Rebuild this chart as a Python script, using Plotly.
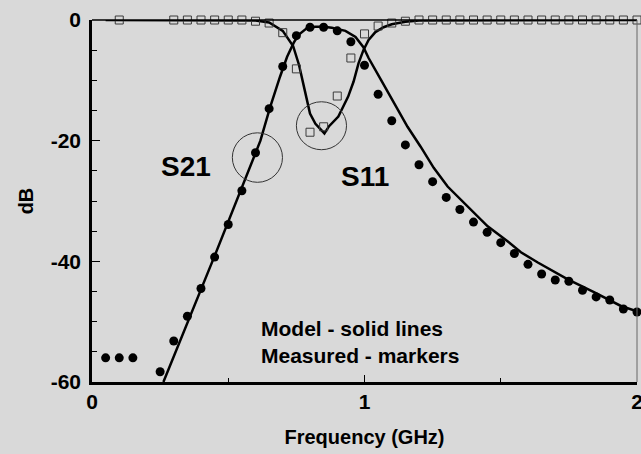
import plotly.graph_objects as go

# Measured S21 (filled dots)
s21_meas_f = [0.05, 0.10, 0.15, 0.25, 0.30, 0.35, 0.40, 0.45, 0.50, 0.55, 0.60, 0.65,
              0.70, 0.75, 0.80, 0.85, 0.90, 0.95, 1.00, 1.05, 1.10, 1.15, 1.20, 1.25,
              1.30, 1.35, 1.40, 1.45, 1.50, 1.55, 1.60, 1.65, 1.70, 1.75, 1.80, 1.85,
              1.90, 1.95, 2.00]
s21_meas_db = [-56.0, -56.0, -56.0, -58.3, -53.2, -49.1, -44.5, -39.3, -33.9, -28.3, -22.0, -14.7,
               -7.7, -2.6, -1.2, -1.2, -1.8, -3.6, -7.5, -12.3, -16.7, -20.7, -24.0, -26.8,
               -29.4, -31.4, -33.5, -35.2, -36.9, -38.7, -40.5, -42.1, -43.1, -43.3, -44.8, -45.9,
               -46.4, -47.9, -48.4]

# Measured S11 (open squares)
s11_meas_f = [0.10, 0.30, 0.35, 0.40, 0.45, 0.50, 0.55, 0.60, 0.65, 0.70, 0.75, 0.80,
              0.85, 0.90, 0.95, 1.00, 1.05, 1.10, 1.15, 1.20, 1.25, 1.30, 1.35, 1.40,
              1.45, 1.50, 1.55, 1.60, 1.65, 1.70, 1.75, 1.80, 1.85, 1.90, 1.95, 2.00]
s11_meas_db = [0.0, 0.0, 0.0, 0.0, 0.0, 0.0, 0.0, -0.2, -0.5, -2.1, -8.1, -18.6,
               -17.7, -12.6, -6.3, -2.3, -1.0, -0.5, -0.2, 0.0, 0.0, 0.0, 0.0, 0.0,
               0.0, 0.0, 0.0, 0.0, 0.0, 0.0, 0.0, 0.0, 0.0, 0.0, 0.0, 0.0]

# Model S21 (solid line)
s21_model_f = [0.262, 0.45, 0.618, 0.654, 0.69, 0.716, 0.74, 0.757, 0.79, 0.82, 0.85, 0.88,
               0.93, 0.967, 0.996, 1.015, 1.06, 1.107, 1.158, 1.206, 1.254, 1.305, 1.353,
               1.40, 1.452, 1.526, 1.574, 1.636, 1.746, 1.842, 1.941, 2.00]
s21_model_db = [-60.0, -39.1, -20.0, -14.4, -9.4, -6.1, -3.8, -2.5, -1.3, -1.1, -1.1, -1.3,
                -1.8, -2.8, -4.5, -6.3, -9.9, -13.7, -17.7, -21.0, -24.5, -27.6, -29.8,
                -31.9, -34.2, -36.7, -38.5, -40.2, -43.0, -45.1, -47.4, -48.3]

# Model S11 (solid line)
s11_model_f = [0.05, 0.60, 0.65, 0.70, 0.738, 0.76, 0.78, 0.80, 0.82, 0.853, 0.87, 0.904,
               0.94, 0.96, 0.978, 0.996, 1.015, 1.04, 1.07, 1.10, 1.15, 1.20, 2.00]
s11_model_db = [0.0, -0.1, -0.4, -1.8, -4.3, -7.5, -11.5, -15.5, -17.2, -18.8, -17.6, -16.0,
                -12.7, -10.2, -7.2, -5.0, -3.3, -2.0, -1.2, -0.7, -0.3, -0.1, 0.0]

x_ticks = [0, 1, 2]
y_ticks = [0, -20, -40, -60]

BG = "#d9d9d9"
FONT = "Liberation Sans, Arial, sans-serif"

fig = go.Figure()

fig.add_trace(go.Scatter(x=s21_model_f, y=s21_model_db, mode="lines",
                         line=dict(color="black", width=2.5), showlegend=False))
fig.add_trace(go.Scatter(x=s11_model_f, y=s11_model_db, mode="lines",
                         line=dict(color="black", width=2.5), showlegend=False))
fig.add_trace(go.Scatter(x=s11_meas_f, y=s11_meas_db, mode="markers",
                         marker=dict(symbol="square-open", size=8, color="#3a3a3a",
                                     line=dict(width=1, color="#3a3a3a")),
                         cliponaxis=False, showlegend=False))
fig.add_trace(go.Scatter(x=s21_meas_f, y=s21_meas_db, mode="markers",
                         marker=dict(symbol="circle", size=9, color="black"),
                         cliponaxis=False, showlegend=False))

# Highlight circles around the S21 and S11 points of interest
fig.add_shape(type="circle", xref="x", yref="y", x0=0.515, x1=0.699, y0=-26.9, y1=-18.7,
              line=dict(color="#333333", width=1))
fig.add_shape(type="circle", xref="x", yref="y", x0=0.750, x1=0.934, y0=-21.5, y1=-13.55,
              line=dict(color="#333333", width=1))

# Top and right frame lines
fig.add_shape(type="line", xref="paper", yref="paper", x0=0, x1=1, y0=1, y1=1,
              line=dict(color="black", width=1.5))
fig.add_shape(type="line", xref="paper", yref="paper", x0=1, x1=1, y0=0, y1=1,
              line=dict(color="#666666", width=1))

fig.add_annotation(x=0.346, y=-24.3, text="<b>S21</b>", showarrow=False,
                   font=dict(family=FONT, size=28, color="black"))
fig.add_annotation(x=1.0, y=-25.9, text="<b>S11</b>", showarrow=False,
                   font=dict(family=FONT, size=28, color="black"))
fig.add_annotation(x=0.614, y=-53.3, xanchor="left", yanchor="middle", align="left",
                   text="<b>Model - solid lines</b><br><b>Measured - markers</b>",
                   showarrow=False,
                   font=dict(family=FONT, size=21, color="black"))

fig.update_layout(
    width=641, height=454,
    margin=dict(l=92, r=4, t=20, b=72, autoexpand=False),
    paper_bgcolor=BG, plot_bgcolor=BG,
    font=dict(family=FONT, color="black", size=20),
    xaxis=dict(range=[0, 2], tickvals=x_ticks, ticktext=[f"<b>{v}</b>" for v in x_ticks],
               showgrid=False, zeroline=False, showline=True, linecolor="black", linewidth=2.5,
               ticks="inside", ticklen=7, tickwidth=1.2, tickcolor="black",
               minor=dict(dtick=0.5, ticks="inside", ticklen=4, tickwidth=1.2, tickcolor="black"),
               ticklabelstandoff=-1, ticklabeloverflow="allow", automargin=False,
               title=dict(text="<b>Frequency (GHz)</b>", standoff=19,
                          font=dict(family=FONT, size=20)),
               tickfont=dict(family=FONT, size=21)),
    yaxis=dict(range=[-60, 0], tickvals=y_ticks, ticktext=[f"<b>{v}</b>" for v in y_ticks],
               showgrid=False, zeroline=False, showline=True, linecolor="black", linewidth=2.5,
               ticks="inside", ticklen=8, tickwidth=1.2, tickcolor="black",
               minor=dict(dtick=5, ticks="inside", ticklen=5, tickwidth=1.2, tickcolor="black"),
               ticklabelstandoff=4, automargin=False,
               title=dict(text="<b>dB</b>", standoff=12,
                          font=dict(family=FONT, size=20)),
               tickfont=dict(family=FONT, size=21)),
)

fig.write_html("out.html")
